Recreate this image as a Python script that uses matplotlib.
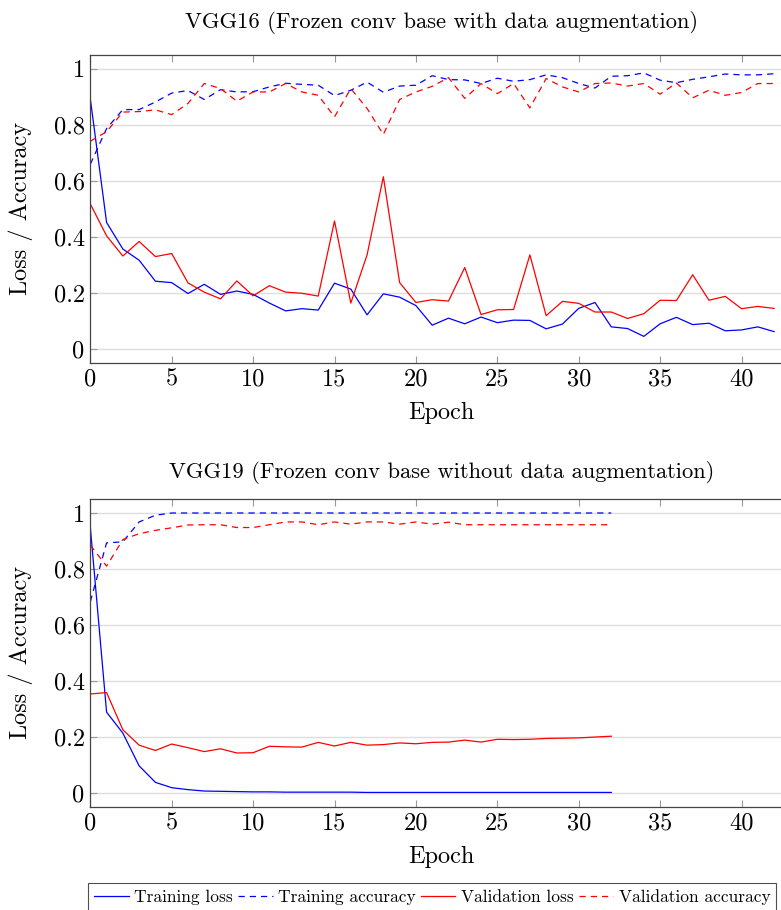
import matplotlib
matplotlib.use("Agg")
import matplotlib.pyplot as plt
import matplotlib.ticker as ticker
from matplotlib.lines import Line2D

plt.rcParams["font.family"] = ["cmr10", "DejaVu Serif"]
plt.rcParams["mathtext.fontset"] = "cm"
plt.rcParams["axes.formatter.use_mathtext"] = True

# VGG16, frozen conv base with data augmentation (epochs 0..42)
vgg16_train_loss = [0.893, 0.451, 0.356, 0.316, 0.241, 0.236, 0.197, 0.230, 0.194, 0.206,
                    0.194, 0.163, 0.135, 0.143, 0.138, 0.234, 0.213, 0.121, 0.196, 0.184,
                    0.154, 0.084, 0.109, 0.089, 0.113, 0.093, 0.102, 0.101, 0.071, 0.088,
                    0.144, 0.165, 0.078, 0.072, 0.044, 0.089, 0.112, 0.086, 0.091, 0.064,
                    0.067, 0.078, 0.061]
vgg16_train_acc = [0.659, 0.786, 0.854, 0.854, 0.881, 0.913, 0.922, 0.890, 0.925, 0.917,
                   0.918, 0.935, 0.948, 0.944, 0.941, 0.904, 0.923, 0.952, 0.916, 0.938,
                   0.941, 0.975, 0.961, 0.960, 0.947, 0.966, 0.955, 0.961, 0.978, 0.968,
                   0.947, 0.931, 0.973, 0.975, 0.985, 0.959, 0.950, 0.962, 0.971, 0.981,
                   0.978, 0.978, 0.982]
vgg16_val_loss = [0.517, 0.403, 0.331, 0.383, 0.329, 0.340, 0.235, 0.202, 0.178, 0.242,
                  0.189, 0.225, 0.202, 0.198, 0.188, 0.456, 0.163, 0.335, 0.614, 0.236,
                  0.165, 0.175, 0.170, 0.290, 0.122, 0.139, 0.140, 0.335, 0.118, 0.169,
                  0.162, 0.131, 0.131, 0.108, 0.125, 0.173, 0.172, 0.264, 0.173, 0.187,
                  0.143, 0.151, 0.144]
vgg16_val_acc = [0.741, 0.775, 0.845, 0.847, 0.853, 0.836, 0.876, 0.947, 0.929, 0.884,
                 0.917, 0.917, 0.947, 0.917, 0.905, 0.828, 0.929, 0.858, 0.765, 0.890,
                 0.917, 0.937, 0.968, 0.894, 0.947, 0.911, 0.947, 0.860, 0.965, 0.935,
                 0.917, 0.947, 0.949, 0.938, 0.947, 0.909, 0.949, 0.896, 0.923, 0.905,
                 0.915, 0.947, 0.947]

# VGG19, frozen conv base without data augmentation (epochs 0..32)
vgg19_train_loss = [0.950, 0.288, 0.213, 0.096, 0.037, 0.018, 0.011, 0.006, 0.005, 0.004,
                    0.003, 0.003, 0.002, 0.002, 0.002, 0.002, 0.002, 0.001, 0.001, 0.001,
                    0.001, 0.001, 0.001, 0.001, 0.001, 0.001, 0.001, 0.001, 0.001, 0.001,
                    0.001, 0.001, 0.001]
vgg19_train_acc = [0.683, 0.893, 0.897, 0.968, 0.992, 1.0, 1.0, 1.0, 1.0, 1.0,
                   1.0, 1.0, 1.0, 1.0, 1.0, 1.0, 1.0, 1.0, 1.0, 1.0,
                   1.0, 1.0, 1.0, 1.0, 1.0, 1.0, 1.0, 1.0, 1.0, 1.0,
                   1.0, 1.0, 1.0]
vgg19_val_loss = [0.353, 0.358, 0.225, 0.170, 0.151, 0.174, 0.161, 0.147, 0.157, 0.142,
                  0.143, 0.166, 0.164, 0.163, 0.180, 0.167, 0.180, 0.170, 0.172, 0.178,
                  0.175, 0.180, 0.181, 0.188, 0.181, 0.191, 0.190, 0.191, 0.194, 0.195,
                  0.196, 0.199, 0.202]
vgg19_val_acc = [0.885, 0.810, 0.905, 0.926, 0.938, 0.947, 0.957, 0.958, 0.958, 0.948,
                 0.948, 0.958, 0.968, 0.968, 0.958, 0.968, 0.960, 0.968, 0.968, 0.960,
                 0.968, 0.960, 0.967, 0.958, 0.958, 0.958, 0.958, 0.958, 0.958, 0.958,
                 0.958, 0.958, 0.958]

titles = ["VGG16 (Frozen conv base with data augmentation)",
          "VGG19 (Frozen conv base without data augmentation)"]
legend_labels = ["Training loss", "Training accuracy", "Validation loss", "Validation accuracy"]

FS = 17.5
TITLE_FS = 16.2
DASH = (5, 4)
W, H = 781, 910


def style(ax, title, pad):
    ax.set_xlim(0, 43.1)
    ax.set_ylim(-0.05, 1.05)
    ax.xaxis.set_major_locator(ticker.MultipleLocator(5))
    ax.yaxis.set_major_locator(ticker.MultipleLocator(0.2))
    ax.yaxis.set_major_formatter(ticker.FuncFormatter(lambda v, p: f"{v:g}"))
    ax.xaxis.set_major_formatter(ticker.FuncFormatter(lambda v, p: f"{v:g}"))
    ax.tick_params(direction="in", length=5, width=0.8, color="#999999",
                   labelsize=FS, top=True, pad=4)
    ax.grid(axis="y", color="#dddddd", lw=1.0)
    ax.set_axisbelow(True)
    for s in ax.spines.values():
        s.set_color("#444444")
        s.set_linewidth(0.9)
    ax.set_xlabel("Epoch", fontsize=FS)
    ax.set_ylabel("Loss / Accuracy", fontsize=FS)
    ax.yaxis.set_label_coords(-0.082, 0.5)
    ax.xaxis.set_label_coords(0.5, -0.128)
    ax.set_title(title, fontsize=TITLE_FS, pad=pad)


def draw(ax, tl, ta, vl, va):
    ax.plot(range(len(tl)), tl, color="#0000ff", lw=0.9)
    ax.plot(range(len(ta)), ta, color="#0000ff", lw=0.9, dashes=DASH)
    ax.plot(range(len(vl)), vl, color="#ff0000", lw=0.9)
    ax.plot(range(len(va)), va, color="#ff0000", lw=0.9, dashes=DASH)


fig = plt.figure(figsize=(W / 100, H / 100), dpi=100)
left = 90.3 / W
width = (792 - 90.3) / W
ax1 = fig.add_axes([left, 1 - 362.7 / H, width, 308 / H])
ax2 = fig.add_axes([left, 1 - 806.7 / H, width, 307.7 / H])

draw(ax1, vgg16_train_loss, vgg16_train_acc, vgg16_val_loss, vgg16_val_acc)
draw(ax2, vgg19_train_loss, vgg19_train_acc, vgg19_val_loss, vgg19_val_acc)
style(ax1, titles[0], 19)
style(ax2, titles[1], 15)

handles = [Line2D([], [], color="#0000ff", lw=0.9),
           Line2D([], [], color="#0000ff", lw=0.9, dashes=DASH),
           Line2D([], [], color="#ff0000", lw=0.9),
           Line2D([], [], color="#ff0000", lw=0.9, dashes=DASH)]
leg = fig.legend(handles, legend_labels, loc="upper left",
                 bbox_to_anchor=(88 / W, 1 - 883 / H), ncol=4, fontsize=12.5,
                 frameon=True, fancybox=False, edgecolor="#222222",
                 handlelength=2.0, handletextpad=0.3, columnspacing=0.3,
                 borderpad=0.35, borderaxespad=0)
leg.get_frame().set_linewidth(0.8)

fig.savefig("out.png", dpi=100)
